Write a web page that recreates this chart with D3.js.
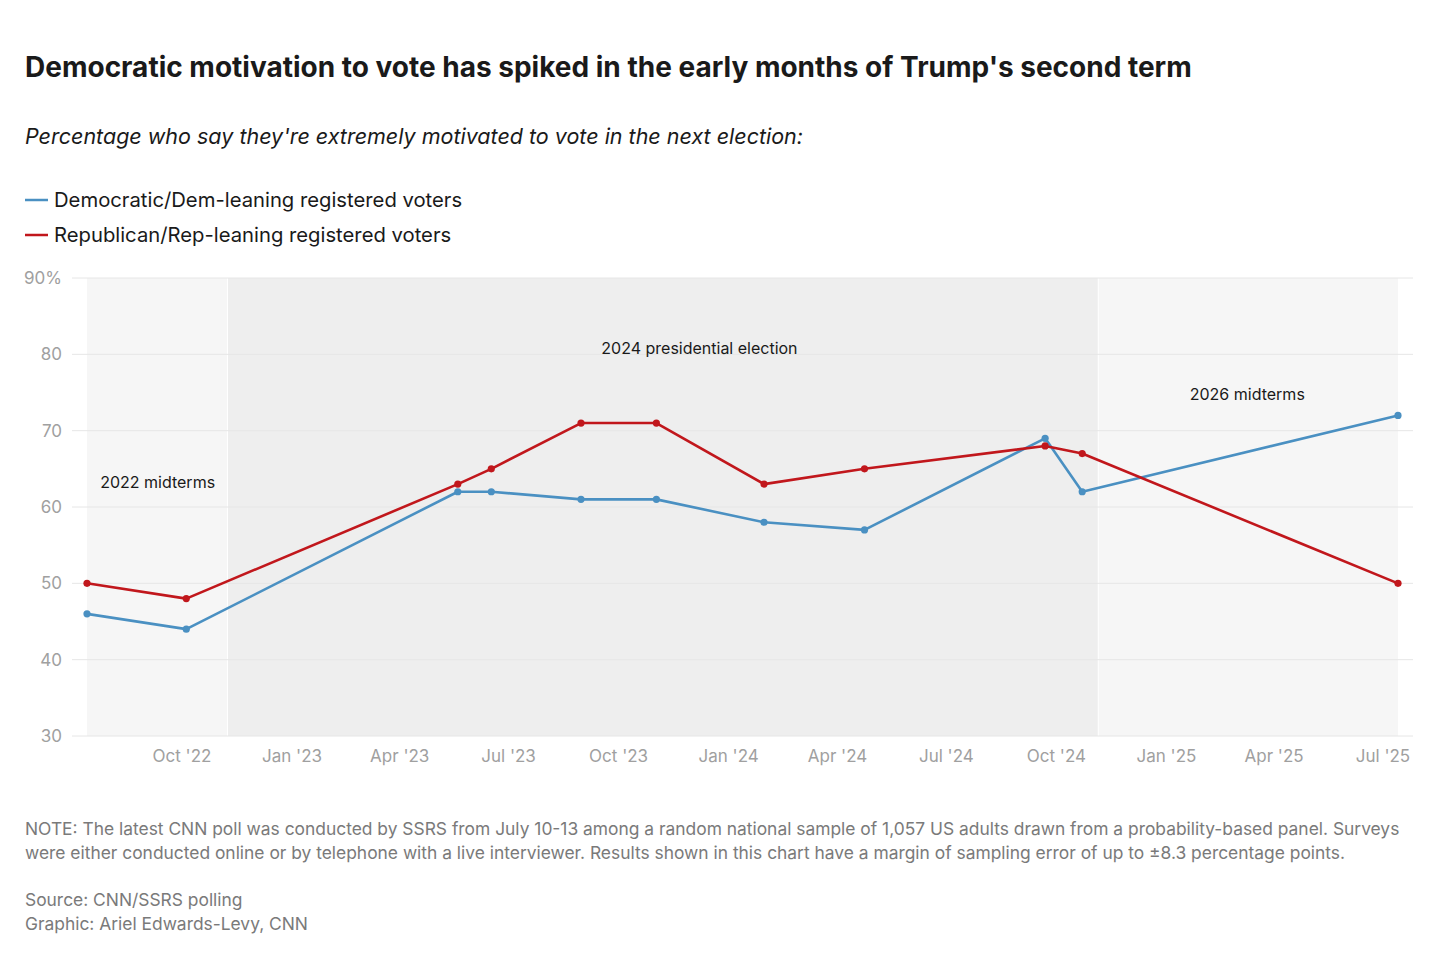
<!DOCTYPE html>
<html>
<head>
<meta charset="utf-8">
<script src="https://cdn.jsdelivr.net/npm/d3@7"></script>
<style>
  body { margin: 0; background: #fff; }
  svg text { font-family: Inter, "Liberation Sans", Arial, sans-serif; }
</style>
</head>
<body>
<div id="chart"></div>
<script>
// Data
const pollDates = ['2022-07-14', '2022-10-05', '2023-05-20', '2023-06-17', '2023-08-31',
  '2023-11-02', '2024-01-31', '2024-04-24', '2024-09-22', '2024-10-23', '2025-07-14'];
const demValues = [46, 44, 62, 62, 61, 61, 58, 57, 69, 62, 72];
const repValues = [50, 48, 63, 65, 71, 71, 63, 65, 68, 67, 50];

const periodStarts = ['2022-07-14', '2022-11-08', '2024-11-05'];
const periodEnds = ['2022-11-08', '2024-11-05', '2025-07-14'];
const periodLabels = ['2022 midterms', '2024 presidential election', '2026 midterms'];
const labelDates = ['2022-07-25', '2023-12-08', '2025-03-10'];
const labelValues = [62.5, 80, 74];
const labelAnchors = ['start', 'middle', 'middle'];

const xTickDates = ['2022-10-01', '2023-01-01', '2023-04-01', '2023-07-01', '2023-10-01',
  '2024-01-01', '2024-04-01', '2024-07-01', '2024-10-01', '2025-01-01', '2025-04-01', '2025-07-01'];
const yTicks = [30, 40, 50, 60, 70, 80, 90];

const parse = d3.timeParse('%Y-%m-%d');
const width = 1456;
const height = 957;
const blue = '#4a90c2';
const red = '#c1171c';

const svg = d3.select('#chart')
  .append('svg')
  .attr('width', width)
  .attr('height', height);

// Scales
const xScale = d3.scaleTime()
  .domain([parse(pollDates[0]), parse(pollDates[pollDates.length - 1])])
  .range([87, 1398]);

const yScale = d3.scaleLinear()
  .domain([30, 90])
  .range([736, 278]);

// Title, subtitle
svg.append('text')
  .text("Democratic motivation to vote has spiked in the early months of Trump's second term")
  .attr('x', 25).attr('y', 77)
  .style('font-size', '28px').style('font-weight', 'bold').style('fill', '#1a1a1a');

svg.append('text')
  .text("Percentage who say they're extremely motivated to vote in the next election:")
  .attr('x', 25).attr('y', 144)
  .style('font-size', '21.5px').style('font-style', 'italic').style('fill', '#1a1a1a');

// Legend
const legend = [
  { name: 'Democratic/Dem-leaning registered voters', color: blue },
  { name: 'Republican/Rep-leaning registered voters', color: red }
];
legend.forEach((item, i) => {
  const y = 200 + i * 35;
  svg.append('line')
    .attr('x1', 25).attr('x2', 48).attr('y1', y).attr('y2', y)
    .attr('stroke', item.color).attr('stroke-width', 2.5);
  svg.append('text')
    .text(item.name)
    .attr('x', 54).attr('y', y + 7)
    .style('font-size', '20.25px').style('fill', '#1a1a1a');
});

// Shaded periods
const periodFill = ['#f6f6f6', '#eeeeee', '#f6f6f6'];
svg.append('g')
  .selectAll('rect')
  .data(periodStarts)
  .enter()
  .append('rect')
  .attr('x', (d, i) => xScale(parse(d)) + (i > 0 ? 1 : 0))
  .attr('y', yScale(90))
  .attr('width', (d, i) => xScale(parse(periodEnds[i])) - xScale(parse(d)) - (i > 0 ? 1 : 0))
  .attr('height', yScale(30) - yScale(90))
  .style('fill', (d, i) => periodFill[i]);

// Grid lines + y axis labels
const yAxis = d3.axisLeft(yScale)
  .tickValues(yTicks)
  .tickSize(0)
  .tickPadding(10)
  .tickFormat(d => d === 90 ? d + '%' : d);

svg.append('g')
  .selectAll('line')
  .data(yTicks)
  .enter()
  .append('line')
  .attr('x1', 72).attr('x2', 1413)
  .attr('y1', d => yScale(d)).attr('y2', d => yScale(d))
  .attr('stroke', '#e6e6e6').attr('stroke-width', 1);

svg.append('g')
  .attr('transform', 'translate(72, 0)')
  .call(yAxis)
  .call(g => g.select('.domain').remove())
  .selectAll('text')
  .style('font-size', '17px')
  .style('fill', '#a0a0a0')
  .style('font-family', 'Inter, "Liberation Sans", Arial, sans-serif');

// x axis
const xAxis = d3.axisBottom(xScale)
  .tickValues(xTickDates.map(parse))
  .tickSize(0)
  .tickPadding(14)
  .tickFormat(d3.timeFormat("%b '%y"));

svg.append('g')
  .attr('transform', 'translate(0, 736)')
  .call(xAxis)
  .call(g => g.select('.domain').remove())
  .selectAll('text')
  .style('font-size', '17px')
  .style('fill', '#a0a0a0')
  .style('font-family', 'Inter, "Liberation Sans", Arial, sans-serif');

// Period labels
svg.append('g')
  .selectAll('text')
  .data(periodLabels)
  .enter()
  .append('text')
  .text(d => d)
  .attr('x', (d, i) => xScale(parse(labelDates[i])))
  .attr('y', (d, i) => yScale(labelValues[i]))
  .attr('text-anchor', (d, i) => labelAnchors[i])
  .style('font-size', '16px')
  .style('fill', '#1a1a1a');

// Lines and points
const series = [
  { values: demValues, color: blue },
  { values: repValues, color: red }
];

const line = d3.line()
  .x((d, i) => xScale(parse(pollDates[i])))
  .y(d => yScale(d));

series.forEach((s) => {
  svg.append('path')
    .datum(s.values)
    .attr('d', line)
    .attr('fill', 'none')
    .attr('stroke', s.color)
    .attr('stroke-width', 2.6)
    .attr('stroke-linejoin', 'round');

  svg.append('g')
    .selectAll('circle')
    .data(s.values)
    .enter()
    .append('circle')
    .attr('cx', (d, i) => xScale(parse(pollDates[i])))
    .attr('cy', d => yScale(d))
    .attr('r', 3.6)
    .style('fill', s.color);
});

// Notes
const notes = [
  { text: 'NOTE: The latest CNN poll was conducted by SSRS from July 10-13 among a random national sample of 1,057 US adults drawn from a probability-based panel. Surveys', y: 835 },
  { text: 'were either conducted online or by telephone with a live interviewer. Results shown in this chart have a margin of sampling error of up to \u00b18.3 percentage points.', y: 859 },
  { text: 'Source: CNN/SSRS polling', y: 906 },
  { text: 'Graphic: Ariel Edwards-Levy, CNN', y: 930 }
];
svg.append('g')
  .selectAll('text')
  .data(notes)
  .enter()
  .append('text')
  .text(d => d.text)
  .attr('x', 25)
  .attr('y', d => d.y)
  .style('font-size', '17.4px')
  .style('fill', '#7a7a7a');
</script>
</body>
</html>
